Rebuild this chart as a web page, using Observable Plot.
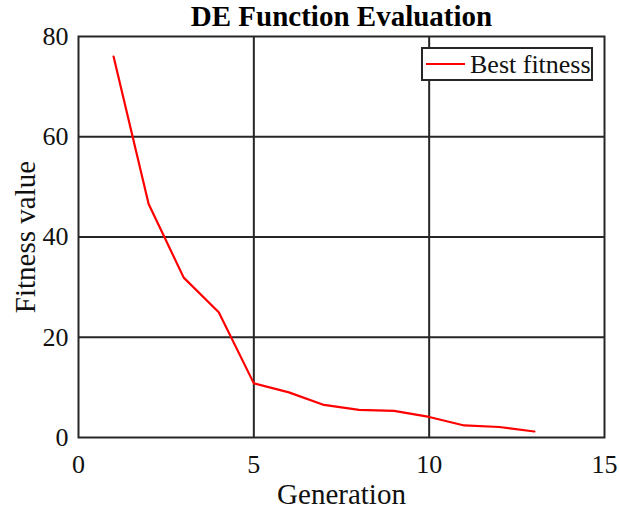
<!DOCTYPE html>
<html>
<head>
<meta charset="utf-8">
<script src="https://cdn.jsdelivr.net/npm/d3@7"></script>
<script src="https://cdn.jsdelivr.net/npm/@observablehq/plot@0.6"></script>
<style>
  html, body { margin: 0; padding: 0; background: #fff; }
  #chart { position: relative; width: 619px; height: 512px; font-family: "Liberation Serif", "Times New Roman", serif; }
  #legend {
    position: absolute; left: 421px; top: 47px; width: 172px; height: 34px;
    box-sizing: border-box; border: 2px solid #262626; background: #fff;
    display: flex; align-items: center; font-size: 26px; color: #111;
  }
  #legend .swatch { width: 39px; height: 2px; background: #ff0000; margin-left: 3px; margin-right: 5px; }
  #legend .label { line-height: 1; position: relative; top: 1px; white-space: nowrap; }
</style>
</head>
<body>
<div id="chart"></div>
<script>
// Best fitness found by differential evolution at each generation
const generation = [1, 2, 3, 4, 5, 6, 7, 8, 9, 10, 11, 12, 13];
const bestFitness = [76.0, 46.6, 31.9, 25.0, 10.8, 9.0, 6.5, 5.5, 5.3, 4.1, 2.4, 2.1, 1.2];

const xTicks = [0, 5, 10, 15];
const yTicks = [0, 20, 40, 60, 80];

const chartTitle = "DE Function Evaluation";
const xLabel = "Generation";
const yLabel = "Fitness value";
const seriesName = "Best fitness";

const data = generation.map((g, i) => ({generation: g, fitness: bestFitness[i]}));
const ink = "#262626";

const chart = Plot.plot({
  width: 619,
  height: 512,
  marginLeft: 78,
  marginRight: 15,
  marginTop: 36,
  marginBottom: 75,
  x: {domain: [0, 15]},
  y: {domain: [0, 80]},
  style: {fontFamily: "'Liberation Serif', 'Times New Roman', serif", fontSize: "26px", color: "#111", background: "#fff"},
  marks: [
    Plot.gridX([5, 10], {stroke: ink, strokeOpacity: 1, strokeWidth: 2}),
    Plot.gridY([20, 40, 60], {stroke: ink, strokeOpacity: 1, strokeWidth: 2}),
    Plot.line(data, {x: "generation", y: "fitness", stroke: "#ff0000", strokeWidth: 2.2}),
    Plot.frame({stroke: ink, strokeWidth: 2}),
    Plot.axisX({ticks: xTicks, tickSize: 0, tickPadding: 17, label: null, fontSize: 26}),
    Plot.axisY({ticks: yTicks, tickSize: 0, tickPadding: 10, label: null, fontSize: 26}),
    Plot.text([chartTitle], {frameAnchor: "top", textAnchor: "middle", lineAnchor: "bottom", dy: -11, fontWeight: "bold", fontSize: 29, fill: "#000"}),
    Plot.text([xLabel], {frameAnchor: "bottom", textAnchor: "middle", lineAnchor: "bottom", dy: 66, fontSize: 29, fill: "#111"}),
    Plot.text([yLabel], {frameAnchor: "left", textAnchor: "middle", lineAnchor: "bottom", rotate: -90, dx: -44, fontSize: 29, fill: "#111"})
  ]
});

const root = document.getElementById("chart");
root.appendChild(chart);

const legend = document.createElement("div");
legend.id = "legend";
legend.innerHTML = `<div class="swatch"></div><span class="label">${seriesName}</span>`;
root.appendChild(legend);
</script>
</body>
</html>
